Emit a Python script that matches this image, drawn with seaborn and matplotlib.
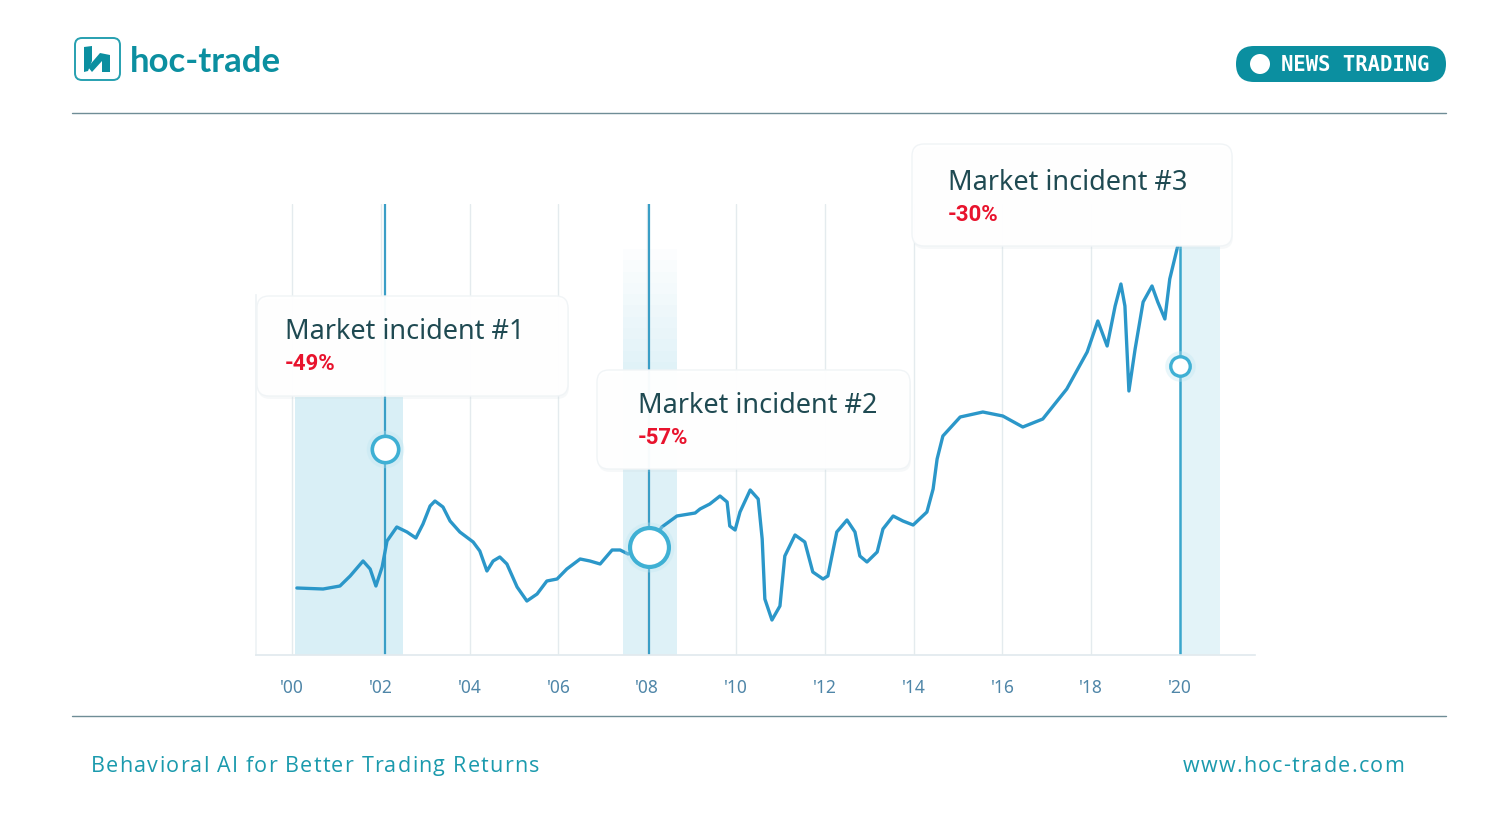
import numpy as np
import pandas as pd
import matplotlib
matplotlib.use("Agg")
import matplotlib.pyplot as plt
import seaborn as sns
from matplotlib.patches import FancyBboxPatch, Circle, Polygon
from matplotlib.font_manager import FontProperties

# ---------------- data ----------------
years = [0.11, 0.70, 1.08, 1.31, 1.60, 1.76, 1.89, 2.03, 2.14, 2.36, 2.59, 2.79,
         2.95, 3.11, 3.22, 3.40, 3.56, 3.78, 4.08, 4.23, 4.39, 4.53, 4.68, 4.84,
         5.07, 5.29, 5.52, 5.74, 5.97, 6.19, 6.49, 6.71, 6.94, 7.21, 7.39, 7.57,
         8.04, 8.33, 8.67, 9.08, 9.19, 9.41, 9.64, 9.80, 9.86, 9.98, 10.09, 10.32,
         10.50, 10.59, 10.65, 10.81, 10.99, 11.10, 11.33, 11.55, 11.73, 11.96,
         12.07, 12.27, 12.50, 12.68, 12.79, 12.95, 13.18, 13.31, 13.54, 13.76,
         13.99, 14.30, 14.44, 14.53, 14.66, 15.05, 15.56, 16.01, 16.46, 16.91,
         17.45, 17.91, 18.15, 18.36, 18.54, 18.67, 18.76, 18.85, 18.99, 19.17,
         19.37, 19.50, 19.66, 19.77, 19.95]
values = [67, 66, 69, 79, 94, 86, 69, 88, 114, 128, 123, 117,
          131, 149, 154, 148, 134, 123, 113, 104, 84, 94, 98, 91,
          68, 54, 61, 74, 76, 86, 96, 94, 91, 105, 105, 101,
          109, 128, 139, 142, 146, 151, 159, 153, 129, 125, 143, 165,
          156, 116, 56, 35, 49, 99, 120, 113, 83, 76,
          79, 123, 135, 123, 99, 93, 103, 126, 139, 134,
          130, 143, 166, 196, 219, 238, 243, 239, 228, 236,
          266, 303, 334, 309, 349, 371, 349, 264, 306, 353,
          369, 353, 336, 376, 409]
tick_years = [0, 2, 4, 6, 8, 10, 12, 14, 16, 18, 20]
tick_labels = ["'00", "'02", "'04", "'06", "'08", "'10", "'12", "'14", "'16", "'18", "'20"]
incident_years = [2.09, 8.04, 20.0]
incident_values = [206, 108, 289]
incident_titles = ["Market incident #1", "Market incident #2", "Market incident #3"]
incident_drops = ["-49%", "-57%", "-30%"]
span_starts = [0.07, 7.45, 20.0]
span_ends = [2.50, 8.67, 20.9]

# ---------------- style ----------------
sns.set_theme(style="white")
plt.rcParams['font.family'] = ['Noto Sans', 'DejaVu Sans']

W, H = 1488, 837
fig = plt.figure(figsize=(W / 100, H / 100), dpi=100)
fig.patch.set_facecolor("white")

# main chart axes (pixel box x 256..1255, y 205..656)
ax = fig.add_axes([256 / W, (H - 656) / H, 999 / W, 451 / H])
ax.set_xlim(-0.811, 21.69)
ax.set_ylim(0, 451)
ax.set_facecolor("white")

# shaded incident spans
ax.axvspan(span_starts[0], span_ends[0], ymin=0, ymax=(656 - 398) / 451,
           color="#d9eff6", lw=0, zorder=0.5)
ax.axvspan(span_starts[1], span_ends[1], ymin=0, ymax=0.60, color="#def1f7", lw=0, zorder=0.5)
for k in range(12):
    y0 = 0.60 + k * 0.025
    ax.axvspan(span_starts[1], span_ends[1], ymin=y0, ymax=y0 + 0.025,
               color="#def1f7", alpha=max(0.0, 1 - k / 12), lw=0, zorder=0.5)
ax.axvspan(span_starts[2], span_ends[2], ymin=0, ymax=0.907, color="#e3f3f8", lw=0, zorder=0.5)

# grid
ax.grid(axis="x", color="#e4ebee", lw=1)
ax.grid(axis="y", visible=False)
ax.set_xticks(tick_years)
ax.set_xticklabels(tick_labels)
ax.tick_params(axis="x", length=0, pad=16.5, labelsize=12.5, labelcolor="#4f86a8")
ax.tick_params(axis="y", left=False, labelleft=False)
for s in ["top", "right"]:
    ax.spines[s].set_visible(False)
ax.spines["bottom"].set_color("#e2eaee")
ax.spines["left"].set_color("#eef3f5")
ax.spines["left"].set_bounds(0, 360)

# event lines
ax.axvline(incident_years[0], ymin=0, ymax=1, color="#3a9ec6", lw=1.6, zorder=2)
ax.axvline(incident_years[1], ymin=0, ymax=1, color="#3a9ec6", lw=1.6, zorder=2)
ax.axvline(incident_years[2], ymin=0, ymax=409 / 451, color="#3aa6cc", lw=1.8, zorder=2)

# main line
df = pd.DataFrame({"year": years, "value": values})
sns.lineplot(data=df, x="year", y="value", ax=ax, color="#2b97c9", lw=2.4,
             zorder=3, sort=False)
ax.lines[-1].set_solid_joinstyle("round")
ax.lines[-1].set_solid_capstyle("round")
ax.set_xlabel("")
ax.set_ylabel("")

# incident markers
sizes = [19, 28, 14]
edges = [2.6, 3.0, 2.4]
for xv, yv, ms, ew in zip(incident_years, incident_values, sizes, edges):
    ax.plot([xv], [yv], marker="o", ms=ms + 8, color="#bfe6f2", alpha=0.35,
            mec="none", zorder=3.5)
    ax.plot([xv], [yv], marker="o", ms=ms, mfc="white", mec="#3fb0d4",
            mew=ew, zorder=4)

# ---------------- overlay (pixel coords) ----------------
ov = fig.add_axes([0, 0, 1, 1], zorder=5)
ov.set_xlim(0, W)
ov.set_ylim(H, 0)
ov.axis("off")

teal = "#0b8fa0"
# rules
ov.plot([72, 1446], [114, 114], color="#6f8d96", lw=1)
ov.plot([72, 1446], [717, 717], color="#6f8d96", lw=1)

# logo
ov.add_patch(FancyBboxPatch((75, 39), 45, 42,
                            boxstyle="round,pad=0,rounding_size=7",
                            fc="white", ec="#27a0b0", lw=1.4))
ov.add_patch(Polygon([[84, 48], [92, 47], [92, 62], [88, 72], [84, 73]],
                     closed=True, fc=teal, ec="none"))
ov.add_patch(Polygon([[88, 68], [100, 54], [110, 56], [110, 73], [102, 73],
                      [102, 62], [92, 73]], closed=True, fc=teal, ec="none"))
ov.text(130, 62, "hoc-trade", fontsize=25, fontweight="bold", color=teal,
        ha="left", va="center", family=["Lato", "DejaVu Sans"])

# badge
ov.add_patch(FancyBboxPatch((1236, 47), 210, 36,
                            boxstyle="round,pad=0,rounding_size=18",
                            fc=teal, ec="none"))
ov.add_patch(Circle((1260, 65), 10, fc="white", ec="none"))
ov.text(1281, 65, "NEWS TRADING", fontsize=14.8, fontweight="bold", color="white",
        ha="left", va="center", family=["DejaVu Sans Mono"])

# annotation boxes
boxes = [(257, 297, 311, 100, 285, 330, 363),
         (597, 371, 313, 99, 638, 404, 437),
         (912, 145, 320, 102, 948, 181, 214)]
for (bx, by, bw, bh, tx, ty1, ty2), title, drop in zip(boxes, incident_titles, incident_drops):
    ov.add_patch(FancyBboxPatch((bx + 1, by + 3), bw, bh,
                                boxstyle="round,pad=0,rounding_size=12",
                                fc="#c9d6db", ec="none", alpha=0.15))
    ov.add_patch(FancyBboxPatch((bx, by), bw, bh,
                                boxstyle="round,pad=0,rounding_size=12",
                                fc="white", ec="#f0f4f6", lw=1, alpha=0.96))
    ov.text(tx, ty1 + 2, title, fontsize=19.5, color="#1f4a52", ha="left", va="center")
    ov.text(tx, ty2 + 1, drop, fontsize=16, fontweight="bold", color="#e8132d",
            ha="left", va="center", family=["Roboto", "DejaVu Sans"])

# footer with letter spacing
renderer = fig.canvas.get_renderer()


def spaced_text(x, y, s, size, spacing, color, family, align="left"):
    prop = FontProperties(family=family, size=size)
    ref_w = renderer.get_text_width_height_descent("|", prop, ismath=False)[0]

    def w(sub):
        return renderer.get_text_width_height_descent(sub + "|", prop, ismath=False)[0] - ref_w

    total = w(s) + spacing * (len(s) - 1)
    x0 = x if align == "left" else x - total
    for i, ch in enumerate(s):
        if ch == " ":
            continue
        ov.text(x0 + w(s[:i]) + i * spacing, y, ch, fontproperties=prop,
                color=color, ha="left", va="center")


spaced_text(91, 766, "Behavioral AI for Better Trading Returns", 15.5, 1.2,
            "#1b9aad", ["Open Sans", "DejaVu Sans"])
spaced_text(1404, 766, "www.hoc-trade.com", 15.5, 1.2,
            "#1b9aad", ["Open Sans", "DejaVu Sans"], align="right")

fig.savefig("out.png", dpi=100, facecolor="white")
